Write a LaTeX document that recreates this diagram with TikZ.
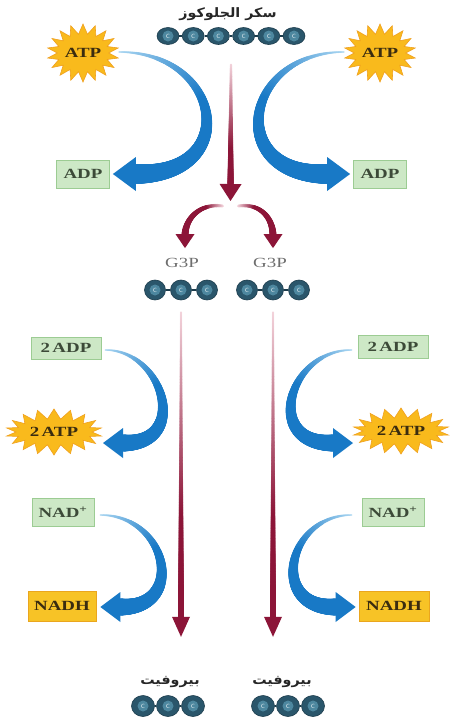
\documentclass[tikz,border=0pt]{standalone}
\usepackage{fontspec}
\setmainfont{Liberation Serif}
\newfontfamily\lblfont[FakeStretch=1.35]{Liberation Serif}
\newfontfamily\arabicfont[Script=Arabic,FakeStretch=1.1]{DejaVu Sans}
\TeXXeTstate=1
\usetikzlibrary{shapes.geometric,shapes.symbols,decorations.markings,calc}

\definecolor{blueD}{HTML}{1879C6}
\definecolor{blueL}{HTML}{A9D6F2}
\definecolor{redD}{HTML}{8C1538}
\definecolor{redL}{HTML}{F3D3DB}
\definecolor{starY}{HTML}{F9BA1C}
\definecolor{starO}{HTML}{F0A01E}
\definecolor{adpFill}{HTML}{CDE8C6}
\definecolor{adpLine}{HTML}{9CCC93}
\definecolor{nadhFill}{HTML}{F7C326}
\definecolor{nadhLine}{HTML}{EAA61E}
\definecolor{cOut}{HTML}{2A566B}
\definecolor{cIn}{HTML}{4D879F}
\definecolor{cRim}{HTML}{1C3C4C}
\definecolor{inkT}{HTML}{3A2C10}
\definecolor{inkG}{HTML}{3C4A38}
\definecolor{g3pT}{HTML}{6E6E6E}

% one dot of a tapered, colour-graded stroke
\newcommand\tpdot{%
  \pgfmathsetmacro\tpf{\pgfkeysvalueof{/pgf/decoration/mark info/distance from start}/(\pgfdecoratedpathlength-\tphl)}%
  \ifdim\tpf pt<1pt
    \pgfmathsetmacro\tpr{\tpra+(\tprb-\tpra)*(0.8*\tpf+0.2*\tpf*\tpf)}%
    \pgfmathtruncatemacro\tpc{100*min(1,\tprate*\tpf)}%
    \fill[\tpcb!\tpc!\tpca] (0,0) circle[radius=\tpr pt];%
  \fi}
% the head, placed just short of the end and pushed forward to the tip
\newcommand\tphead{%
  \pgfmathsetmacro\tps{0.005*\pgfdecoratedpathlength}%
  \fill[\tpcb] (\tps pt,0pt) -- ($(\tps pt,0pt)+(-\tphl,\tphw)$) -- ($(\tps pt,0pt)+(-\tphl,-\tphw)$) -- cycle;}

\tikzset{
  tp r0/.store in=\tpra, tp r1/.store in=\tprb,
  tp head/.store in=\tphl, tp wide/.store in=\tphw,
  tp from/.store in=\tpca, tp to/.store in=\tpcb, tp rate/.store in=\tprate,
  taper/.style={
    postaction={decorate, decoration={markings,
      mark=between positions 0 and 0.99 step 0.6pt with {\tpdot}}},
    postaction={decorate, decoration={markings,
      mark=at position 0.995 with {\tphead}}}},
  bluebig/.style={taper, tp r0=0.7, tp r1=10, tp head=23pt, tp wide=17pt,
      tp from=blueL, tp to=blueD, tp rate=2.2},
  bluesmall/.style={taper, tp r0=0.7, tp r1=8.5, tp head=20pt, tp wide=15pt,
      tp from=blueL, tp to=blueD, tp rate=2.2},
  redlong/.style={taper, tp r0=1, tp r1=3, tp head=20pt, tp wide=9pt,
      tp from=redL, tp to=redD, tp rate=1.5},
  redshort/.style={taper, tp r0=1.2, tp r1=3.2, tp head=17pt, tp wide=11pt,
      tp from=redL, tp to=redD, tp rate=1.4},
  redfork/.style={taper, tp r0=1.5, tp r1=3.5, tp head=14pt, tp wide=9.5pt,
      tp from=redL, tp to=redD, tp rate=3},
  lbl/.style={font={\lblfont\bfseries\fontsize{14}{16}\selectfont}},
  greenbox/.style={rectangle, draw=adpLine, fill=adpFill, line width=0.8pt,
      inner sep=0pt, text=inkG, lbl},
  goldbox/.style={rectangle, draw=nadhLine, fill=nadhFill, line width=0.8pt,
      inner sep=0pt, text=inkT, lbl},
  sun/.style={starburst, random starburst=0, fill=starY, draw=starO,
      line width=0.6pt, inner sep=0pt, text=inkT, lbl},
  carb/.style={ellipse, inner sep=0pt, fill=cOut, draw=cRim, line width=0.6pt,
      text=white!80!cIn, font={\sffamily\fontsize{6}{6}\selectfont},
      path picture={\fill[cIn] (path picture bounding box.center) circle[radius=5.5pt];}},
  clink/.style={draw=cRim, line width=1.4pt},
  artxt/.style={font={\arabicfont\bfseries\fontsize{13}{15}\selectfont}, text=black!85},
  g3ptxt/.style={font={\lblfont\fontsize{14}{16}\selectfont}, text=g3pT, inner sep=1pt},
}

\begin{document}
\begin{tikzpicture}[x=1pt,y=-1pt]
\fill[white] (0,0) rectangle (451,726);
\useasboundingbox (0,0) rectangle (451,726);

% glucose
\node[artxt] (gluctxt) at (228,14) {\beginR سكر الجلوكوز\endR};
\foreach \i in {1,...,6}
  \node[carb, minimum width=22pt, minimum height=17pt] (g\i) at ({168+25.2*(\i-1)},36) {C};
\foreach \i/\j in {1/2,2/3,3/4,4/5,5/6} \draw[clink] (g\i) -- (g\j);

% energy carriers, investment phase
\node[sun, starburst points=18, starburst point height=10pt,
      minimum width=70pt, minimum height=58pt] (atpL) at (83,53) {ATP};
\node[sun, starburst points=18, starburst point height=10pt,
      minimum width=70pt, minimum height=58pt] (atpR) at (380,53) {ATP};
\node[greenbox, minimum width=53pt, minimum height=28pt] (adpL) at (83,174) {ADP};
\node[greenbox, minimum width=53pt, minimum height=28pt] (adpR) at (380,174) {ADP};

% G3P
\node[g3ptxt] (g3ptxtL) at (182,263) {G3P};
\node[g3ptxt] (g3ptxtR) at (270,263) {G3P};
\foreach \i/\x in {1/155,2/181,3/207}
  \node[carb, minimum width=21pt, minimum height=20pt] (l\i) at (\x,290) {C};
\foreach \i/\x in {1/247,2/273,3/299}
  \node[carb, minimum width=21pt, minimum height=20pt] (r\i) at (\x,290) {C};
\draw[clink] (l1) -- (l2); \draw[clink] (l2) -- (l3);
\draw[clink] (r1) -- (r2); \draw[clink] (r2) -- (r3);

% energy carriers, payoff phase
\node[greenbox, minimum width=70pt, minimum height=22pt] (adp2L) at (66,348) {2\,ADP};
\node[greenbox, minimum width=70pt, minimum height=23pt] (adp2R) at (393,347) {2\,ADP};
\node[sun, starburst points=18, starburst point height=10pt,
      minimum width=96pt, minimum height=46pt] (atp2L) at (54,432) {2\,ATP};
\node[sun, starburst points=18, starburst point height=10pt,
      minimum width=96pt, minimum height=46pt] (atp2R) at (401,431) {2\,ATP};
\node[greenbox, minimum width=62pt, minimum height=28pt] (nadL) at (63,512) {NAD\textsuperscript{+}};
\node[greenbox, minimum width=62pt, minimum height=28pt] (nadR) at (393,512) {NAD\textsuperscript{+}};
\node[goldbox, minimum width=68pt, minimum height=30pt] (nadhL) at (62,606) {NADH};
\node[goldbox, minimum width=70pt, minimum height=30pt] (nadhR) at (394,606) {NADH};

% pyruvate
\node[artxt] (pyrtxtL) at (170,682) {\beginR بيروفيت\endR};
\node[artxt] (pyrtxtR) at (282,682) {\beginR بيروفيت\endR};
\foreach \i/\x in {1/143,2/168,3/193}
  \node[carb, minimum width=23pt, minimum height=21pt] (pl\i) at (\x,706) {C};
\foreach \i/\x in {1/263,2/288,3/313}
  \node[carb, minimum width=23pt, minimum height=21pt] (pr\i) at (\x,706) {C};
\draw[clink] (pl1) -- (pl2); \draw[clink] (pl2) -- (pl3);
\draw[clink] (pr1) -- (pr2); \draw[clink] (pr2) -- (pr3);

% carbon flow
\coordinate (gmid) at ($(g3.south)!.5!(g4.south)+(0,20)$);
\coordinate (fork) at (230.5,201);
\coordinate (tipL) at ($(g3ptxtL.north)+(3,-9)$);
\coordinate (tipR) at ($(g3ptxtR.north)+(3,-9)$);
\path[redshort] (gmid) -- (fork);
\path[redfork] ($(fork)+(-8,5)$) .. controls +(-22,-3) and +(0,-18) .. ($(tipL)+(0,-12)$) -- (tipL);
\path[redfork] ($(fork)+(8,5)$) .. controls +(22,-3) and +(0,-18) .. ($(tipR)+(0,-12)$) -- (tipR);
\path[redlong] ($(l2.south)+(0,12)$) -- ($(l2 |- pyrtxtL.north)+(0,-36)$);
\path[redlong] ($(r2.south)+(0,12)$) -- ($(r2 |- pyrtxtR.north)+(0,-36)$);

% energy transfers (each ends in a short straight run carrying the head)
\path[bluebig] ($(atpL.center)+(36,-1)$) .. controls +(103,0) and +(104,0) .. ($(adpL.east)+(28,0)$) -- ($(adpL.east)+(3,0)$);
\path[bluebig] ($(atpR.center)+(-36,-1)$) .. controls +(-100,0) and +(-101,0) .. ($(adpR.west)+(-28,0)$) -- ($(adpR.west)+(-3,0)$);
\path[bluesmall] ($(adp2L.east)+(4,2)$) .. controls +(58,0) and +(65,0) .. ($(atp2L.center)+(71,11)$) -- ($(atp2L.center)+(49,11)$);
\path[bluesmall] ($(adp2R.west)+(-6,3)$) .. controls +(-63,0) and +(-68,0) .. ($(atp2R.center)+(-70,12)$) -- ($(atp2R.center)+(-48,12)$);
\path[bluesmall] ($(nadL.east)+(6,3)$) .. controls +(67,0) and +(64,0) .. ($(nadhL.east)+(26,1)$) -- ($(nadhL.east)+(4,1)$);
\path[bluesmall] ($(nadR.west)+(-10,3)$) .. controls +(-64,0) and +(-65,0) .. ($(nadhR.west)+(-25,1)$) -- ($(nadhR.west)+(-3,1)$);
\end{tikzpicture}
\end{document}
